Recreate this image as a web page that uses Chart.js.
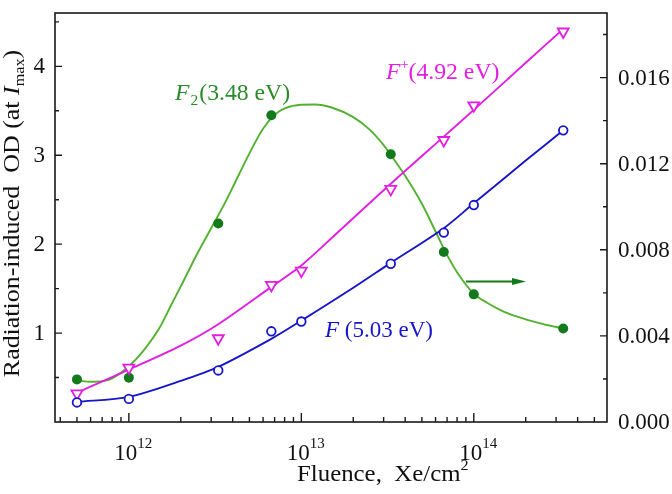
<!DOCTYPE html>
<html>
<head>
<meta charset="utf-8">
<script src="https://cdn.jsdelivr.net/npm/chart.js@4.4.1/dist/chart.umd.min.js"></script>
<style>
	html, body { margin: 0; padding: 0; background: #fff; }
	#wrap { width: 672px; height: 494px; position: relative; }
</style>
</head>
<body>
<div id="wrap"><canvas id="odChart"></canvas></div>
<script>
"use strict";

// measured points, fluence in Xe/cm^2
const fluence = [5e11, 1e12, 3.3e12, 6.7e12, 1e13, 3.3e13, 6.7e13, 1e14, 3.3e14];
const od_F = [0.22, 0.26, 0.58, 1.02, 1.13, 1.78, 2.13, 2.44, 3.28];
const od_Fplus = [0.32, 0.61, 0.94, 1.54, 1.70, 2.62, 3.17, 3.56, 4.39];
const od_F2 = [0.00198, 0.00206, 0.00922, 0.01425, null, 0.01244, 0.0079, 0.00593, 0.00434];

// fitted curves
const fit_F_x = [5e11, 1e12, 2e12, 3.3e12, 6.7e12, 1e13, 2e13, 3.3e13, 6.7e13, 1e14, 2e14, 3.3e14];
const fit_F_y = [0.227, 0.283, 0.463, 0.62, 0.935, 1.14, 1.51, 1.79, 2.18, 2.46, 2.94, 3.28];

const fit_Fplus_x = [5e11, 1e12, 2e12, 3.3e12, 6.7e12, 1e13, 1.6e13, 3.3e13, 6.7e13, 1e14, 2e14, 3.3e14];
const fit_Fplus_y = [0.33, 0.59, 0.86, 1.10, 1.52, 1.76, 2.12, 2.68, 3.21, 3.51, 4.04, 4.42];

const fit_F2_x = [5e11, 6e11, 7e11, 8e11, 1e12, 1.2e12, 1.5e12, 1.75e12, 2e12, 2.5e12, 3e12, 3.5e12,
	4e12, 5e12, 6e12, 7e12, 8e12, 1e13, 1.2e13, 1.5e13, 2e13, 2.5e13, 3e13, 3.5e13,
	4e13, 5e13, 6e13, 7e13, 8e13, 1e14, 1.2e14, 1.5e14, 2e14, 2.5e14, 3.3e14];
const fit_F2_y = [0.00194, 0.00187, 0.00189, 0.00203, 0.00259, 0.00326, 0.00435, 0.00540, 0.00630, 0.00784, 0.00900, 0.00998,
	0.01090, 0.01248, 0.01362, 0.01427, 0.01457, 0.01474, 0.01475, 0.01461, 0.01416, 0.01357, 0.01286, 0.01212,
	0.01144, 0.01014, 0.00885, 0.00775, 0.00696, 0.00596, 0.00553, 0.00512, 0.00477, 0.00456, 0.00434];

const left_labels = [1, 2, 3, 4];
const right_labels = [0, 0.004, 0.008, 0.012, 0.016];
const x_decades = [12, 13, 14];

const BLUE = "#1616c8";
const MAGENTA = "#e21ee2";
const GREEN_LINE = "#52b22f";
const GREEN_DOT = "#137a1c";
const GREEN_TEXT = "#2a8a2a";
const SERIF = "'Liberation Serif', 'DejaVu Serif', serif";

const pts = (xs, ys) => xs.map((x, i) => ({ x: x, y: ys[i] }));

// draws text pieces one after another (optionally stretched), returns end x
function run(ctx, x, y, pieces, sx) {
	sx = sx || 1;
	for (let p of pieces) {
		ctx.font = p.font;
		ctx.save();
		ctx.translate(x, y + (p.dy || 0));
		ctx.scale(sx, 1);
		ctx.fillText(p.text, 0, 0);
		ctx.restore();
		x += (ctx.measureText(p.text).width + (p.gap || 0)) * sx;
	}
	return x;
}

function runWidth(ctx, pieces) {
	let w = 0;
	for (let p of pieces) { ctx.font = p.font; w += ctx.measureText(p.text).width + (p.gap || 0); }
	return w;
}

const decorations = {
	id: "decorations",
	afterDraw(chart) {
		const ctx = chart.ctx;
		const a = chart.chartArea;
		const xs = chart.scales.x, yl = chart.scales.y, yr = chart.scales.y1;
		ctx.save();

		// ticks, all pointing inward
		ctx.strokeStyle = "#1a1a1a";
		ctx.lineWidth = 1.4;
		ctx.beginPath();
		for (let v = 0.5; v <= 4.55; v += 0.5) {
			let py = yl.getPixelForValue(v);
			let len = Math.abs(v - Math.round(v)) < 1e-6 ? 7 : 4;
			ctx.moveTo(a.left, py); ctx.lineTo(a.left + len, py);
		}
		for (let k = 1; k <= 9; k++) {
			let py = yr.getPixelForValue(k * 0.002);
			let len = k % 2 === 0 ? 7 : 4;
			ctx.moveTo(a.right, py); ctx.lineTo(a.right - len, py);
		}
		for (let n = 11; n <= 14; n++) {
			for (let k = 1; k <= 9; k++) {
				let v = k * Math.pow(10, n);
				if (v < xs.min || v > xs.max) continue;
				let px = xs.getPixelForValue(v);
				let len = k === 1 ? 9 : 5;
				ctx.moveTo(px, a.bottom); ctx.lineTo(px, a.bottom - len);
			}
		}
		ctx.stroke();

		// frame
		ctx.lineWidth = 1.6;
		ctx.strokeRect(a.left, a.top, a.right - a.left, a.bottom - a.top);

		// tick labels
		ctx.fillStyle = "#111";
		ctx.textBaseline = "middle";
		ctx.font = "23px " + SERIF;
		ctx.textAlign = "right";
		for (let v of left_labels) ctx.fillText(String(v), a.left - 10, yl.getPixelForValue(v) + 1);
		ctx.textAlign = "left";
		for (let v of right_labels) ctx.fillText(v.toFixed(3), a.right + 11, yr.getPixelForValue(v) + 1);

		ctx.textBaseline = "alphabetic";
		for (let n of x_decades) {
			let px = xs.getPixelForValue(Math.pow(10, n));
			ctx.font = "23px " + SERIF;
			let w = ctx.measureText("10").width;
			run(ctx, px - w / 2 - 3, 460, [
				{ text: "10", font: "23px " + SERIF },
				{ text: String(n), font: "15px " + SERIF, dy: -12 },
			]);
		}

		// axis titles
		run(ctx, 297, 481, [
			{ text: "Fluence,  Xe/cm", font: "23px " + SERIF },
			{ text: "2", font: "15px " + SERIF, dy: -11 },
		], 1.08);

		ctx.save();
		let yTitle = [
			{ text: "Radiation-induced  OD (at ", font: "24px " + SERIF },
			{ text: "I", font: "italic 24px " + SERIF },
			{ text: "max", font: "15px " + SERIF, dy: 5 },
			{ text: ")", font: "24px " + SERIF },
		];
		let sy = 1.08;
		let tw = runWidth(ctx, yTitle) * sy;
		ctx.translate(19, 213.5);
		ctx.rotate(-Math.PI / 2);
		run(ctx, -tw / 2, 0, yTitle, sy);
		ctx.restore();

		// series labels
		ctx.fillStyle = GREEN_TEXT;
		run(ctx, 175, 100, [
			{ text: "F", font: "italic 23px " + SERIF, gap: 1 },
			{ text: "2", font: "15px " + SERIF, dy: 5, gap: 1 },
			{ text: "(3.48 eV)", font: "23px " + SERIF },
		], 1.03);
		ctx.fillStyle = MAGENTA;
		run(ctx, 386, 79, [
			{ text: "F", font: "italic 23px " + SERIF },
			{ text: "+", font: "14px " + SERIF, dy: -10 },
			{ text: "(4.92 eV)", font: "23px " + SERIF },
		], 1.03);
		ctx.fillStyle = BLUE;
		run(ctx, 325, 337, [
			{ text: "F", font: "italic 23px " + SERIF },
			{ text: " (5.03 eV)", font: "23px " + SERIF },
		]);

		// arrow pointing to the right axis
		ctx.strokeStyle = GREEN_DOT;
		ctx.fillStyle = GREEN_DOT;
		ctx.lineWidth = 2;
		ctx.beginPath();
		ctx.moveTo(466, 281.5); ctx.lineTo(514, 281.5);
		ctx.stroke();
		ctx.beginPath();
		ctx.moveTo(526, 281.5); ctx.lineTo(512, 278); ctx.lineTo(512, 285); ctx.closePath();
		ctx.fill();

		ctx.restore();
	},
};

const fitLine = (xsArr, ysArr, axis, color, smooth) => Object.assign({
	data: pts(xsArr, ysArr),
	yAxisID: axis,
	borderColor: color,
	borderWidth: 1.9,
	pointRadius: 0,
	order: 1,
}, smooth);

const ctx = document.getElementById("odChart").getContext("2d");
new Chart(ctx, {
	type: "line",
	data: {
		datasets: [
			{
				label: "F",
				data: pts(fluence, od_F),
				yAxisID: "y",
				showLine: false,
				pointStyle: "circle",
				pointRadius: 4.3,
				pointBorderWidth: 1.8,
				pointBorderColor: BLUE,
				pointBackgroundColor: "#fff",
				order: 0,
			},
			{
				label: "F+",
				data: pts(fluence, od_Fplus),
				yAxisID: "y",
				showLine: false,
				pointStyle: "triangle",
				rotation: 180,
				pointRadius: 6.3,
				pointBorderWidth: 1.8,
				pointBorderColor: MAGENTA,
				pointBackgroundColor: "#fff",
				order: 0,
			},
			{
				label: "F2",
				data: pts(fluence, od_F2),
				yAxisID: "y1",
				showLine: false,
				pointStyle: "circle",
				pointRadius: 5,
				pointBorderWidth: 0,
				pointBackgroundColor: GREEN_DOT,
				order: 0,
			},
			Object.assign({ label: "F fit" }, fitLine(fit_F_x, fit_F_y, "y", BLUE, { tension: 0.3 })),
			Object.assign({ label: "F+ fit" }, fitLine(fit_Fplus_x, fit_Fplus_y, "y", MAGENTA, { tension: 0.3 })),
			Object.assign({ label: "F2 fit" }, fitLine(fit_F2_x, fit_F2_y, "y1", GREEN_LINE, { cubicInterpolationMode: "monotone" })),
		],
	},
	options: {
		responsive: true,
		maintainAspectRatio: false,
		animation: false,
		layout: { padding: { top: 13, left: 0, right: 0, bottom: 0 } },
		plugins: { legend: { display: false }, tooltip: { enabled: false } },
		scales: {
			x: {
				type: "logarithmic",
				position: "bottom",
				min: 3.73e11,
				max: 5.92e14,
				ticks: { display: false },
				grid: { display: false },
				border: { display: false },
				afterFit: (s) => { s.height = 72; },
			},
			y: {
				position: "left",
				min: 0,
				max: 4.6,
				ticks: { display: false },
				grid: { display: false },
				border: { display: false },
				afterFit: (s) => { s.width = 55; },
			},
			y1: {
				position: "right",
				min: 0,
				max: 0.019,
				ticks: { display: false },
				grid: { display: false },
				border: { display: false },
				afterFit: (s) => { s.width = 65; },
			},
		},
	},
	plugins: [decorations],
});
</script>
</body>
</html>
